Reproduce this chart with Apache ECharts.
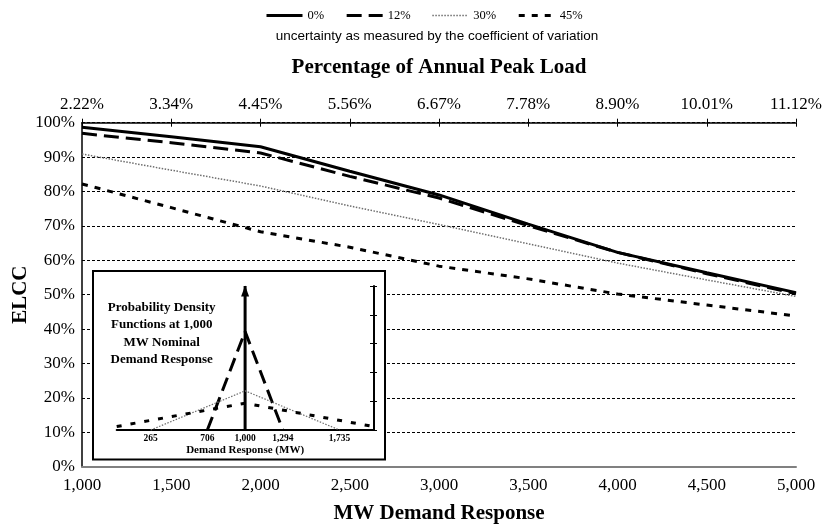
<!DOCTYPE html>
<html>
<head>
<meta charset="utf-8">
<script src="https://cdn.jsdelivr.net/npm/echarts@6/dist/echarts.min.js"></script>
<style>
  html, body { margin: 0; padding: 0; background: #fff; }
  #chart { width: 832px; height: 527px; }
</style>
</head>
<body>
<div id="chart"></div>
<script>
// Demand response levels (MW) and the matching share of annual peak load
const demandMW = [1000, 1500, 2000, 2500, 3000, 3500, 4000, 4500, 5000];
const peakLoadLabels = ['2.22%', '3.34%', '4.45%', '5.56%', '6.67%', '7.78%', '8.90%', '10.01%', '11.12%'];

// ELCC (%) for each coefficient of variation
const seriesNames = ['0%', '12%', '30%', '45%'];
const elccCv0  = [98.7, 95.9, 93.0, 85.9, 79.0, 70.5, 62.3, 56.4, 50.6];
const elccCv12 = [96.9, 94.2, 91.2, 84.4, 78.1, 70.1, 62.3, 56.1, 50.3];
const elccCv30 = [90.9, 86.2, 81.6, 75.8, 70.4, 64.8, 59.2, 54.3, 49.5];
const elccCv45 = [82.2, 75.3, 68.3, 63.8, 58.3, 54.6, 50.2, 47.0, 43.8];

// Inset: probability densities (x 10^-3 per MW) around 1,000 MW nominal
const pdfTicks = [265, 706, 1000, 1294, 1735];
const pdfCv0  = [[1000, 0], [1000, 5]];
const pdfCv12 = [[706, 0], [1000, 3.42], [1294, 0]];
const pdfCv30 = [[265, 0], [1000, 1.36], [1735, 0]];
const pdfCv45 = [[0, 0.12], [1000, 0.93], [2000, 0.12]];

const SERIF = 'Liberation Serif, Times New Roman, serif';
const SANS = 'Liberation Sans, Arial, sans-serif';

const lineStyles = [
  { color: '#000', width: 3, type: 'solid' },
  { color: '#000', width: 3, type: [15, 7] },
  { color: '#6e6e6e', width: 1.5, type: [1.5, 1.5] },
  { color: '#000', width: 3, type: [6, 7] }
];
const insetStyles = [
  { color: '#000', width: 3, type: 'solid' },
  { color: '#000', width: 3, type: [14, 7] },
  { color: '#6e6e6e', width: 1.2, type: [1.5, 1.5] },
  { color: '#000', width: 3, type: [5, 9] }
];

const elccSets = [elccCv0, elccCv12, elccCv30, elccCv45];
const pdfSets = [pdfCv0, pdfCv12, pdfCv30, pdfCv45];

const mainSeries = elccSets.map((vals, i) => ({
  name: seriesNames[i],
  type: 'line',
  xAxisIndex: 0,
  yAxisIndex: 0,
  symbol: 'none',
  silent: true,
  z: 3 + (3 - i),
  lineStyle: lineStyles[i],
  data: demandMW.map((x, k) => [x, vals[k]])
}));

const insetSeries = pdfSets.map((pts, i) => ({
  name: 'pdf ' + seriesNames[i],
  type: 'line',
  xAxisIndex: 3,
  yAxisIndex: 1,
  z: 60,
  silent: true,
  clip: false,
  symbol: 'none',
  lineStyle: insetStyles[i],
  data: i === 0
    ? pts.map((p, k) => k === pts.length - 1
        ? { value: p, symbol: 'triangle', symbolSize: [8, 11], symbolOffset: [0, 5],
            itemStyle: { color: '#000' } }
        : { value: p, symbol: 'none' })
    : pts
}));
insetSeries[0].showSymbol = true;
insetSeries[0].symbol = 'triangle';

const fmtThousands = v => Number(v).toLocaleString('en-US');

const chart = echarts.init(document.getElementById('chart'), null, { renderer: 'canvas' });
chart.setOption({
  animation: false,
  backgroundColor: '#fff',
  legend: {
    data: seriesNames.map((n, i) => ({
      name: n,
      lineStyle: { width: lineStyles[i].width, type: lineStyles[i].type, color: lineStyles[i].color }
    })),
    left: 265,
    top: 9,
    padding: 0,
    itemWidth: 36,
    itemHeight: 12,
    itemGap: 21,
    selectedMode: false,
    itemStyle: { opacity: 0 },
    textStyle: { fontFamily: SERIF, fontSize: 12.5, color: '#000' }
  },
  grid: [
    { left: 82, right: 36, top: 122.7, bottom: 60.3, containLabel: false, outerBoundsMode: 'none' },
    { left: 116.7, right: 458.5, top: 286, bottom: 97, containLabel: false, outerBoundsMode: 'none' }
  ],
  xAxis: [
    {
      type: 'value', gridIndex: 0, position: 'bottom',
      min: 1000, max: 5000, interval: 500,
      axisLine: { onZero: false, lineStyle: { color: '#808080', width: 2 } },
      axisTick: { show: false },
      splitLine: { show: false },
      axisLabel: { formatter: fmtThousands, fontFamily: SERIF, fontSize: 17, color: '#000', margin: 10 },
      name: 'MW Demand Response', nameLocation: 'middle', nameGap: 36, nameMoveOverlap: false,
      nameTextStyle: { fontFamily: SERIF, fontSize: 21, fontWeight: 'bold', color: '#000' }
    },
    {
      type: 'value', gridIndex: 0, position: 'top',
      min: 1000, max: 5000, interval: 500,
      axisLine: { onZero: false, lineStyle: { color: '#000', width: 1.5 } },
      axisTick: { show: true, inside: false, length: 4, lineStyle: { color: '#000', width: 1 } },
      splitLine: { show: false },
      axisLabel: {
        formatter: v => peakLoadLabels[Math.round((v - demandMW[0]) / 500)],
        fontFamily: SERIF, fontSize: 17, color: '#000', margin: 10
      },
      name: 'Percentage of Annual Peak Load', nameLocation: 'middle', nameGap: 45, nameMoveOverlap: false,
      nameTextStyle: { fontFamily: SERIF, fontSize: 21, fontWeight: 'bold', color: '#000' }
    },
    {
      type: 'value', gridIndex: 0, position: 'top',
      min: 1000, max: 5000, interval: 500,
      axisLine: { show: false, onZero: false },
      axisTick: { show: true, inside: true, length: 4, lineStyle: { color: '#000', width: 1 } },
      splitLine: { show: false },
      axisLabel: { show: false }
    },
    {
      type: 'value', gridIndex: 1, position: 'bottom',
      min: 0, max: 2000, z: 60,
      axisLine: { onZero: false, lineStyle: { color: '#000', width: 2 } },
      axisTick: { show: false },
      splitLine: { show: false },
      axisLabel: {
        customValues: pdfTicks, formatter: fmtThousands,
        fontFamily: SERIF, fontSize: 9.5, fontWeight: 'bold', color: '#000', margin: 4
      },
      name: 'Demand Response (MW)', nameLocation: 'middle', nameGap: 15, nameMoveOverlap: false,
      nameTextStyle: { fontFamily: SERIF, fontSize: 11, fontWeight: 'bold', color: '#000' }
    }
  ],
  yAxis: [
    {
      type: 'value', gridIndex: 0,
      min: 0, max: 100, interval: 10,
      axisLine: { show: true, onZero: false, lineStyle: { color: '#000', width: 1.5 } },
      axisTick: { show: false },
      splitLine: { show: true, lineStyle: { color: '#000', width: 1, type: [3, 2] } },
      axisLabel: { formatter: '{value}%', fontFamily: SERIF, fontSize: 17, color: '#000', margin: 7 },
      name: 'ELCC', nameLocation: 'middle', nameGap: 51, nameMoveOverlap: false,
      nameTextStyle: { fontFamily: SERIF, fontSize: 21, fontWeight: 'bold', color: '#000' }
    },
    {
      type: 'value', gridIndex: 1, position: 'right',
      min: 0, max: 5, interval: 1, z: 60,
      axisLine: { show: true, onZero: false, lineStyle: { color: '#000', width: 2 } },
      axisTick: { show: true, inside: false, length: 3.5, lineStyle: { color: '#000', width: 1 } },
      splitLine: { show: false },
      axisLabel: { show: false }
    },
    {
      type: 'value', gridIndex: 1, position: 'right',
      min: 0, max: 5, interval: 1, z: 60,
      axisLine: { show: false, onZero: false },
      axisTick: { show: true, inside: true, length: 3.5, lineStyle: { color: '#000', width: 1 } },
      splitLine: { show: false },
      axisLabel: { show: false }
    }
  ],
  graphic: {
    elements: [
      {
        type: 'text', z: 10, x: 437, y: 29,
        style: {
          text: 'uncertainty as measured by the coefficient of variation',
          font: '13.5px ' + SANS, fill: '#000', align: 'center'
        }
      },
      {
        type: 'rect', z: 50,
        shape: { x: 93, y: 271, width: 292, height: 188.5 },
        style: { fill: '#fff', stroke: '#000', lineWidth: 2 }
      },
      {
        type: 'text', z: 61, x: 161.7, y: 298.5,
        style: {
          text: 'Probability Density\nFunctions at 1,000\nMW Nominal\nDemand Response',
          font: 'bold 13px ' + SERIF, fill: '#000', align: 'center', lineHeight: 17.5
        }
      }
    ]
  },
  series: mainSeries.concat(insetSeries)
});
</script>
</body>
</html>
